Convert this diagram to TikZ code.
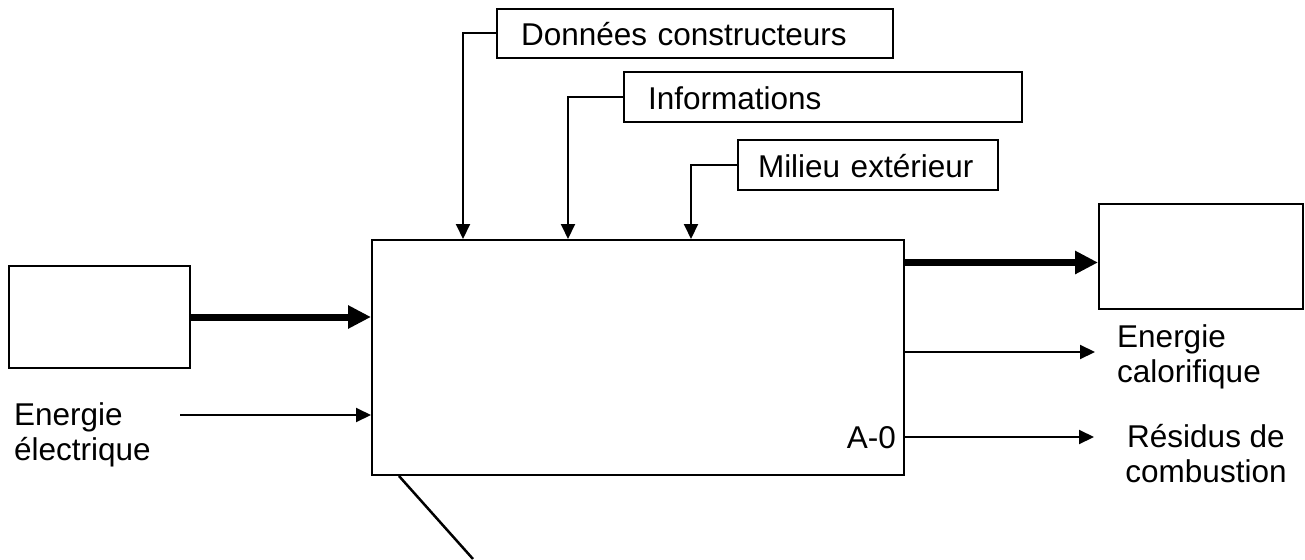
\documentclass[tikz,border=0pt]{standalone}
\usepackage{fontspec}
\setmainfont{Liberation Sans}
\usetikzlibrary{arrows.meta}
\newcommand\lab{\fontsize{31.5}{35.5}\selectfont}
\begin{document}
\begin{tikzpicture}[x=1pt,y=-1pt,
  box/.style={draw,line width=2pt,anchor=north west,inner sep=0pt},
  tbox/.style={draw,line width=2pt,anchor=north west,inner ysep=0pt,align=left,font=\lab,text height=25pt,text depth=0pt},
  sarrow/.style={line width=2pt,-{Triangle[length=15pt,width=14pt]}},
  barrow/.style={line width=7pt,-{Triangle[length=23pt,width=22pt]}},
  txt/.style={font=\lab,inner sep=0pt}]
\useasboundingbox (0,0) rectangle (1305,559);
% boxes
\node[tbox, minimum width=396pt, minimum height=49pt, text width=348pt, inner xsep=24pt] (don) at (496,8) {Données constructeurs};
\node[tbox, minimum width=398pt, minimum height=50pt, text width=350pt, inner xsep=24pt] (inf) at (623,71) {Informations};
\node[tbox, minimum width=260pt, minimum height=50pt, text width=220pt, inner xsep=20pt] (mil) at (737,139) {Milieu extérieur};
\node[box, minimum width=532pt, minimum height=235pt] (main) at (371,239) {};
\node[box, minimum width=181pt, minimum height=102pt] (lb) at (8,265) {};
\node[box, minimum width=204pt, minimum height=105pt] (rb) at (1098,203) {};
% controls
\draw[sarrow] (don.west) -| ([xshift=92pt]main.north west);
\draw[sarrow] (inf.west) -| ([xshift=197pt]main.north west);
\draw[sarrow] (mil.west) -| ([xshift=320pt]main.north west);
% inputs
\draw[barrow] (lb.east) -- (lb.east -| main.west);
\coordinate (ee) at (180,415);
\draw[sarrow] (ee) -- (ee -| main.west);
% outputs
\coordinate (tr) at ([yshift=-6pt]rb.west);
\draw[barrow] (tr -| main.east) -- (tr);
\coordinate (ec) at (1095,352);
\draw[sarrow] (ec -| main.east) -- (ec);
\coordinate (rs) at (1094,437);
\draw[sarrow] (rs -| main.east) -- (rs);
% mechanism
\coordinate (dg) at (473,559);
\draw[line width=2.5pt] ([xshift=28pt]main.south west) -- (dg);
% labels
\node[txt, anchor=north west, align=left] (eel) at (14,402.4) {Energie\\électrique};
\node[txt, anchor=north west, align=left] (ecl) at (1117,324.4) {Energie\\calorifique};
\node[txt, anchor=north, align=center] (rsl) at (1206,423.8) {Résidus de\\combustion};
\node[txt, anchor=base east] (a0) at (896,448) {A-0};
\end{tikzpicture}
\end{document}
